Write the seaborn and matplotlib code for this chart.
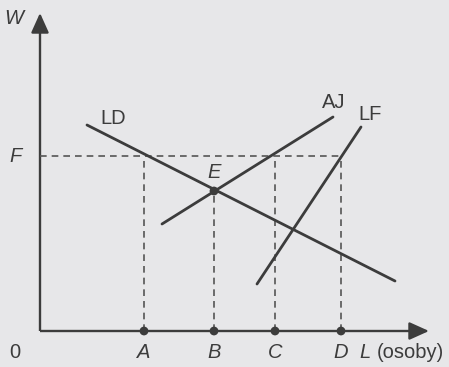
import numpy as np
import pandas as pd
import matplotlib
matplotlib.use("Agg")
import matplotlib.pyplot as plt
import seaborn as sns

sns.set_theme(style="white")
plt.rcParams["font.family"] = ["Liberation Sans", "DejaVu Sans"]

# Labour quantities on the L axis and the wage level F
labour_names = ["A", "B", "C", "D"]
labour_values = [104, 174, 235, 301]
wage_f = 175
eq_point = (174, 140)  # equilibrium E (quantity B)

# Curve endpoints: labour demand, AJ and labour force
ld_x = [47, 355]
ld_y = [206, 50]
aj_x = [122, 293]
aj_y = [107, 214]
lf_x = [217, 321]
lf_y = [47, 204]

curves = pd.concat([
    pd.DataFrame({"L": ld_x, "W": ld_y, "curve": "LD"}),
    pd.DataFrame({"L": aj_x, "W": aj_y, "curve": "AJ"}),
    pd.DataFrame({"L": lf_x, "W": lf_y, "curve": "LF"}),
])

bg = "#e7e7e9"
ink = "#3c3c3c"

fig = plt.figure(figsize=(4.49, 3.67), dpi=100, facecolor=bg)
ax = fig.add_axes([0, 0, 1, 1])
ax.set_facecolor(bg)
ax.set_xlim(-40, 409)
ax.set_ylim(-36, 331)
ax.axis("off")

# Axes with arrow heads
ax.plot([0, 382], [0, 0], color=ink, lw=1.7, solid_capstyle="butt")
ax.plot([0, 0], [0, 305], color=ink, lw=1.7, solid_capstyle="butt")
ax.annotate("", xy=(389, 0), xytext=(370, 0),
            arrowprops=dict(arrowstyle="-|>,head_length=1.0,head_width=0.45",
                            color=ink, lw=1.7, shrinkA=0, shrinkB=0))
ax.annotate("", xy=(0, 318), xytext=(0, 298),
            arrowprops=dict(arrowstyle="-|>,head_length=1.0,head_width=0.45",
                            color=ink, lw=1.7, shrinkA=0, shrinkB=0))

# Dashed guides
dash = dict(color="#555555", lw=1.2, ls=(0, (4, 3)))
ax.plot([0, labour_values[-1]], [wage_f, wage_f], **dash)
for name, q in zip(labour_names, labour_values):
    top = eq_point[1] if name == "B" else wage_f
    ax.plot([q, q], [0, top], **dash)

# Curves
sns.lineplot(data=curves, x="L", y="W", units="curve", estimator=None,
             color=ink, lw=2.0, ax=ax, legend=False, sort=False)

# Points
pts = pd.DataFrame({"L": labour_values + [eq_point[0]],
                    "W": [0] * len(labour_values) + [eq_point[1]]})
sns.scatterplot(data=pts, x="L", y="W", color=ink, s=40, edgecolor="none",
                ax=ax, zorder=5, legend=False)
ax.set_xlabel("")
ax.set_ylabel("")

fs = 14.5
ax.text(-26, 312, "W", fontsize=fs, style="italic", color=ink, ha="center", va="center")
ax.text(-25, wage_f, "F", fontsize=fs, style="italic", color=ink, ha="center", va="center")
ax.text(-25, -22, "0", fontsize=fs, color=ink, ha="center", va="center")
for name, q in zip(labour_names, labour_values):
    ax.text(q, -22, name, fontsize=fs, style="italic", color=ink, ha="center", va="center")
ax.text(325, -22, "L", fontsize=fs, style="italic", color=ink, ha="center", va="center")
ax.text(337, -22, "(osoby)", fontsize=fs, color=ink, ha="left", va="center")
ax.text(73, 213, "LD", fontsize=fs, color=ink, ha="center", va="center")
ax.text(294, 229, "AJ", fontsize=fs, color=ink, ha="center", va="center")
ax.text(330, 216, "LF", fontsize=fs, color=ink, ha="center", va="center")
ax.text(eq_point[0], 158, "E", fontsize=fs, style="italic", color=ink, ha="center", va="center")

fig.savefig("out.png", dpi=100, facecolor=bg)
